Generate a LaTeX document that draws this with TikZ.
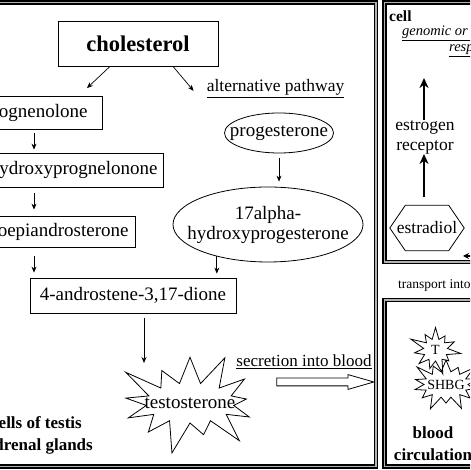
\documentclass[tikz,border=0pt]{standalone}
\usepackage{fontspec}
\setmainfont{Liberation Serif}
\usetikzlibrary{arrows.meta, shapes.geometric, shapes.symbols, shapes.arrows}

\begin{document}
\begin{tikzpicture}[x=1pt, y=1pt, font=\fontsize{19}{20}\selectfont,
  >={Stealth[length=6pt,width=5pt]},
  box/.style={draw, line width=0.8pt, inner ysep=0pt},
  oval/.style={ellipse, draw, line width=0.8pt, inner sep=0pt},
  burst/.style={starburst, draw, line width=0.8pt, inner sep=0pt},
  frame/.style={line width=1.5pt, double=gray!60, double distance=1.5pt},
  arr/.style={->, line width=0.7pt},
  thickarr/.style={->, line width=2.6pt, >={Stealth[length=10pt,width=9pt]}}]
  \useasboundingbox (0,0) rectangle (470,470);
  \clip (0,0) rectangle (470,470);
  \fill[white] (0,0) rectangle (470,470);
  \draw[frame] (-20,3.5) rectangle (376,467.5);
  \draw[frame] (384.5,208) rectangle (490,467.5);
  \draw[frame] (384.5,3.5) rectangle (490,170);

  \node[box, minimum width=160pt, minimum height=45pt, font=\fontsize{22.5}{24}\bfseries] (chol) at (138,426.5) {cholesterol};
  \node[anchor=base, inner sep=0pt, font=\fontsize{17.5}{20}\selectfont] (alt) at (275.5,378) {\underline{alternative pathway}};
  \node[box, anchor=east, inner xsep=15pt, minimum height=33pt] (prog) at (103,357.5) {prognenolone};
  \node[box, anchor=east, inner xsep=6pt, minimum height=34pt] (hyd) at (164,300) {17-hydroxyprognelonone};
  \node[box, anchor=east, inner xsep=7pt, minimum height=31pt] (dhea) at (136,238.5) {dehydroepiandrosterone};
  \node[box, minimum width=206pt, minimum height=35pt] (andro) at (133,174.5) {4-androstene-3,17-dione};
  \node[oval, minimum width=109pt, minimum height=40pt] (proges) at (279,337) {\makebox[0pt]{progesterone}};
  \node[oval, minimum width=190pt, minimum height=75pt, align=center] (alpha) at (268,245.5) {\makebox[0pt]{17alpha-}\\\makebox[0pt]{hydroxyprogesterone}};
  \node[burst, starburst points=13, starburst point height=36pt, minimum width=160pt, minimum height=112pt] (testo) at (190,67) {\makebox[0pt]{testosterone}};
  \node[anchor=base, inner sep=0pt, font=\fontsize{17}{20}\selectfont] (secr) at (304,103) {\underline{secretion into blood}};
  \node[single arrow, draw, line width=0.8pt, minimum height=97pt, inner xsep=0pt, inner ysep=3.5pt, single arrow head extend=3.5pt, single arrow tip angle=32] (sarrow) at (318.5,88) {};
  \node[anchor=base east, inner sep=0pt, font=\fontsize{17}{22}\bfseries] (leydig) at (82,41) {Leydig cells of testis};
  \node[anchor=base east, inner sep=0pt, font=\fontsize{17}{22}\bfseries] (adrenal) at (93,19) {and adrenal glands};

  \coordinate (lcol) at (34,0);
  \coordinate (tin) at (144,107);
  \draw[arr] ([xshift=-28pt]chol.south) -- ([xshift=-16pt,yshift=7.5pt]prog.north east);
  \draw[arr] ([xshift=35pt]chol.south) -- ([xshift=-13pt,yshift=-2pt]alt.west);
  \draw[arr, shorten <=4pt, shorten >=3pt] (prog.south -| lcol) -- (hyd.north -| lcol);
  \draw[arr, shorten <=6pt, shorten >=6pt] (hyd.south -| lcol) -- (dhea.north -| lcol);
  \draw[arr, shorten <=9pt, shorten >=5pt] (dhea.south -| lcol) -- (andro.north -| lcol);
  \draw[arr, shorten <=5pt, shorten >=5pt] (proges.south) -- (proges.south |- alpha.north);
  \draw[arr, shorten >=4pt] (alpha.212) -- (alpha.212 |- andro.north);
  \draw[arr, shorten <=5pt] (andro.south -| tin) -- (tin);

  \node[anchor=base west, inner sep=0pt, font=\fontsize{15.5}{16}\bfseries] (cell) at (389,448) {cell};
  \node[anchor=north west, inner sep=0pt, align=center, font=\fontsize{14.5}{16}\itshape] (gen) at (402,444) {\underline{genomic or non-genomic}\\\underline{response}};
  \node[align=center, inner sep=0pt, font=\fontsize{17.5}{20}\selectfont] (rec) at (425,333) {estrogen\\receptor};
  \node[minimum width=74pt, minimum height=45pt, inner sep=0pt, font=\fontsize{17.5}{20}\selectfont] (estr) at (427,242) {estradiol};
  \draw[line width=0.8pt] (estr.west) -- ([xshift=15.5pt]estr.north west) -- ([xshift=-15.5pt]estr.north east)
    -- (estr.east) -- ([xshift=-15.5pt]estr.south east) -- ([xshift=15.5pt]estr.south west) -- cycle;
  \coordinate (rcol) at (424,0);
  \coordinate (gtop) at (424,392);
  \coordinate (aro) at (482,214);
  \coordinate (ari) at (463,214);
  \draw[thickarr] (rec.north -| rcol) -- (gtop);
  \draw[thickarr, shorten <=8pt] (estr.north -| rcol) -- (rec.south -| rcol);
  \draw[->, line width=1.6pt, >={Stealth[length=6pt,width=6pt]}] (aro) -- (ari);
  \node[anchor=base west, inner sep=0pt, font=\fontsize{13.5}{16}\selectfont] (trans) at (398,181) {transport into cell};

  \node[burst, starburst points=11, starburst point height=16pt, minimum width=56pt, minimum height=54pt, font=\fontsize{14}{16}\selectfont] (tstar) at (435.5,120) {\makebox[0pt]{T}};
  \node[burst, starburst points=14, starburst point height=16pt, minimum width=76pt, minimum height=58pt, font=\fontsize{14}{16}\selectfont] (shbg) at (446,85.5) {\makebox[0pt]{SHBG}};
  \node[align=center, inner sep=0pt, font=\fontsize{17}{22}\bfseries] (blood) at (433,26) {blood\\circulation};
\end{tikzpicture}
\end{document}
